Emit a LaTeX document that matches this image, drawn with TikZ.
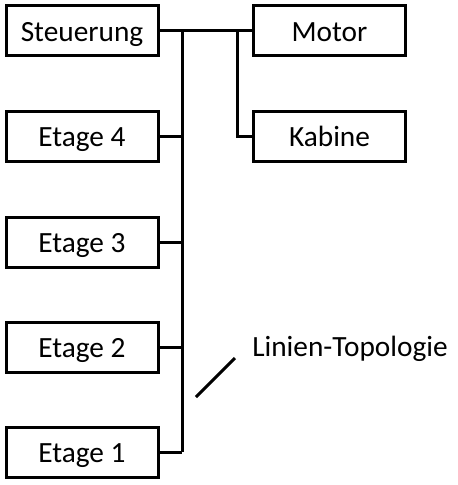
\documentclass[tikz,border=0pt]{standalone}
\usepackage{fontspec}
\setmainfont{Carlito}
\usepackage{tikz}
\tikzset{
    unit/.style={draw, line width=2.25pt, minimum width=114pt, minimum height=37.5pt, inner sep=0pt, text height=16pt, text depth=0pt, font=\fontsize{22}{26}\selectfont},
    wire/.style={line width=2.25pt},
    toplabel/.style={anchor=west, inner sep=0pt, font=\fontsize{22}{26}\selectfont}
}
\begin{document}
\begin{tikzpicture}[x=0.75pt, y=-0.75pt]
    \useasboundingbox (0,0) rectangle (457,485);

    % controller and machine room
    \node[unit] (st)  at (82,31)    {Steuerung};
    \node[unit] (mot) at (329.5,31) {Motor};
    \node[unit] (kab) at (329.5,136) {Kabine};

    % floors
    \node[unit] (e4) at (82,136) {Etage 4};
    \node[unit] (e3) at (82,242) {Etage 3};
    \node[unit] (e2) at (82,347) {Etage 2};
    \node[unit] (e1) at (82,452) {Etage 1};

    % bus lines
    \coordinate (bus) at (182,0);
    \coordinate (branch) at (237,0);
    \draw[wire] (st.east) -- (mot.west);
    \draw[wire] (st.east -| bus) -- (e1.east -| bus);
    \draw[wire] (st.east -| branch) |- (kab.west);
    \draw[wire] (e4.east) -- (e4.east -| bus);
    \draw[wire] (e3.east) -- (e3.east -| bus);
    \draw[wire] (e2.east) -- (e2.east -| bus);
    \draw[wire] (e1.east) -- (e1.east -| bus);

    % label with pointer
    \node[toplabel] (topo) at (252,349) {Linien-Topologie};
    \coordinate (p1) at (196,397);
    \coordinate (p2) at (235,358);
    \draw[wire] (p1) -- (p2);
\end{tikzpicture}
\end{document}
